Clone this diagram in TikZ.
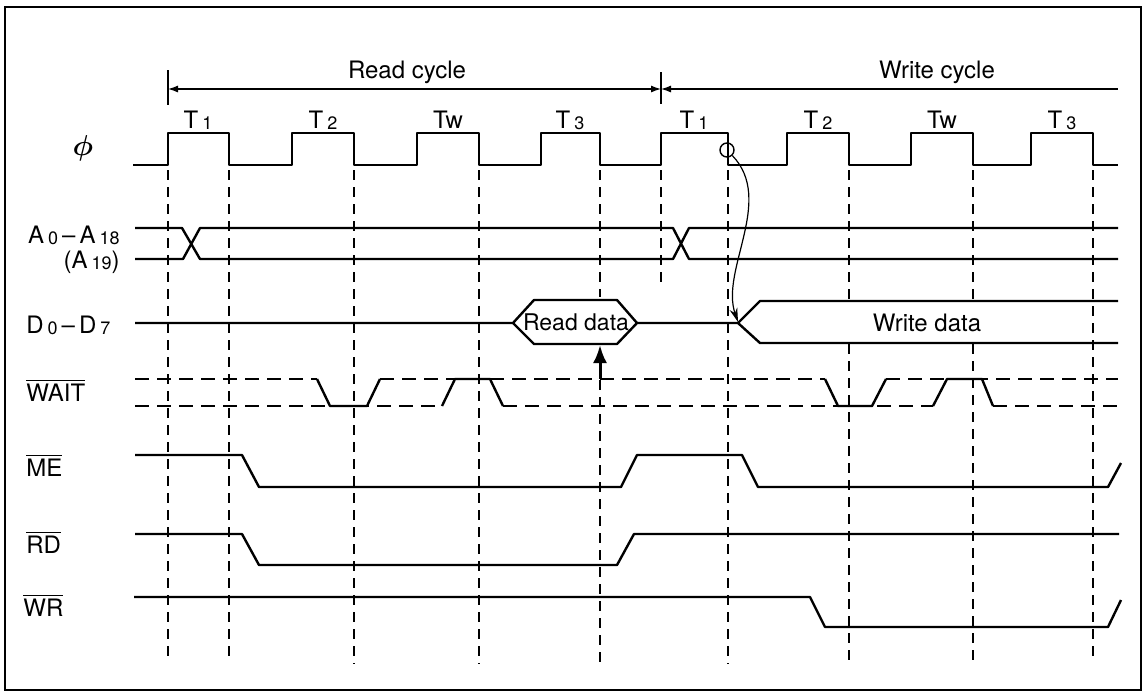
\documentclass[tikz,border=0pt]{standalone}
\usepackage{amsmath}
\usepackage{fontspec}
\setmainfont{TeX Gyre Heros}
\usepackage{tikz}
\usetikzlibrary{arrows.meta,calc}

\newcommand{\barsig}[1]{$\overline{\mbox{#1}}$}
\newcommand{\idx}[1]{\,\raisebox{-0.6pt}{\fontsize{9}{9}\selectfont #1}}

\begin{document}
\begin{tikzpicture}[
    x=0.5pt, y=-0.5pt,
    sig/.style={line width=1.2pt, line join=round},
    gridline/.style={line width=0.6pt, dash pattern=on 5pt off 3.5pt},
    dontcare/.style={line width=1.2pt, dash pattern=on 7pt off 4pt},
    dim/.style={line width=0.6pt},
    label/.style={font=\fontsize{12}{12.5}\selectfont, inner sep=0pt},
    tlabel/.style={font=\fontsize{12}{12}\selectfont, inner sep=0pt},
    >={Latex[length=5pt,width=3.5pt]}
]
\useasboundingbox (0,0) rectangle (1146,692);

% Frame
\draw[line width=1pt] (5,7) rectangle (1141,690);

% Cycle dimension lines
\coordinate (rc) at (168,89);
\coordinate (wc) at (661,89);
\coordinate (we) at (1118,89);
\draw[dim] (168,70) -- (168,105);
\draw[dim] (661,72) -- (661,104);
\draw[dim, <->] (rc) -- (wc);
\draw[dim, <-] (wc) -- (we);
\node[label] (readcyc) at (407,72) {Read cycle};
\node[label] (writecyc) at (937,72) {Write cycle};

% Clock
\node[label, font=\fontsize{15}{15}\selectfont] (phi) at (83,148) {$\boldsymbol{\phi}$};
\draw[sig] (133,165) -- (168,165) -- (168,133) -- (229,133) -- (229,165)
    -- (292,165) -- (292,133) -- (354,133) -- (354,165)
    -- (417,165) -- (417,133) -- (479,133) -- (479,165)
    -- (541,165) -- (541,133) -- (600,133) -- (600,165)
    -- (661,165) -- (661,133) -- (728,133) -- (728,165)
    -- (787,165) -- (787,133) -- (849,133) -- (849,165)
    -- (911,165) -- (911,133) -- (973,133) -- (973,165)
    -- (1031,165) -- (1031,133) -- (1093,133) -- (1093,165) -- (1118,165);
\foreach \x/\t in {198/{T\idx{1}}, 323/{T\idx{2}}, 448/{Tw}, 570/{T\idx{3}},
                   694/{T\idx{1}}, 818/{T\idx{2}}, 942/{Tw}, 1062/{T\idx{3}}}
    \node[tlabel] (tl\x) at (\x,120) {\t};

% Clock edge reference lines
\foreach \x/\a/\b in {168/170/662, 229/170/662, 354/170/664, 479/170/664,
                      600/170/297, 600/380/664, 661/170/285, 728/170/664,
                      849/170/300, 849/344/664, 973/170/300, 973/344/664, 1093/170/660}
    \draw[gridline] (\x,\a) -- (\x,\b);

% Address bus
\node[label, anchor=east, align=right] (addr) at (120,250)
    {A\idx{0}\,--\,A\idx{18}\\(A\idx{19})};
\draw[sig] (135,228) -- (182,228) -- (200,259) -- (673,259) -- (689,228) -- (1118,228);
\draw[sig] (135,259) -- (183,259) -- (200,228) -- (673,228) -- (689,259) -- (1118,259);

% Data bus
\node[label, anchor=west] (data) at (26,325) {D\idx{0}\,--\,D\idx{7}};
\draw[sig] (135,323) -- (513,323) -- (534,300) -- (617,300) -- (637,323) -- (738,323) -- (760,301) -- (1118,301);
\draw[sig] (513,323) -- (534,344) -- (617,344) -- (637,323);
\draw[sig] (738,323) -- (760,343) -- (1118,343);
\node[label, font=\fontsize{11.5}{12}\selectfont] (rdata) at (576,322) {Read data};
\node[label] (wdata) at (927,323) {Write data};

% Data latched at T3
\coordinate (rdfoot) at (600,379);
\coordinate (rdtip) at (600,345);
\draw[line width=1.5pt, -{Latex[length=9pt,width=7pt]}] (rdfoot) -- (rdtip);

% Write data follows falling edge of T1
\node[draw, circle, minimum size=7pt, inner sep=0pt, line width=0.7pt] (edge) at (727,150) {};
\coordinate (wstart) at (738,322);
\draw[dim, -{Stealth[length=7pt,width=4pt]}] (edge) .. controls (775,200) and (720,270) .. (wstart);

% WAIT
\node[label, anchor=west] (wait) at (26,390) {\barsig{WAIT}};
\foreach \a/\b in {135/317, 380/825, 886/1118}
    \draw[dontcare] (\a,379) -- (\b,379);
\foreach \a/\b in {135/442, 503/933, 993/1118}
    \draw[dontcare] (\a,406) -- (\b,406);
\draw[sig] (317,379) -- (330,406) -- (367,406) -- (380,379);
\draw[sig] (442,406) -- (455,379) -- (490,379) -- (503,406);
\draw[sig] (825,379) -- (838,406) -- (872,406) -- (886,379);
\draw[sig] (933,406) -- (947,379) -- (982,379) -- (993,406);

% ME
\node[label, anchor=west] (me) at (26,465) {\barsig{ME}};
\draw[sig] (135,455) -- (242,455) -- (259,487) -- (621,487) -- (637,455) -- (742,455) -- (758,487) -- (1108,487) -- (1121,463);

% RD
\node[label, anchor=west] (rd) at (26,542) {\barsig{RD}};
\draw[sig] (135,534) -- (242,534) -- (259,565) -- (617,565) -- (634,534) -- (1119,534);

% WR
\node[label, anchor=west] (wr) at (23,605) {\barsig{WR}};
\draw[sig] (134,597) -- (810,597) -- (825,627) -- (1108,627) -- (1121,600);

\end{tikzpicture}
\end{document}
